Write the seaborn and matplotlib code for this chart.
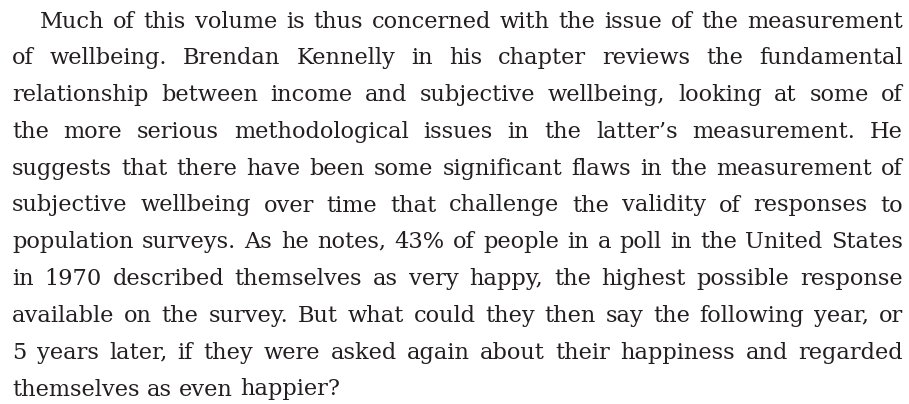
import matplotlib
matplotlib.use('Agg')
import matplotlib.pyplot as plt
import seaborn as sns

# theme first, font list after (set_theme resets font.family)
sns.set_theme(style='white')
plt.rcParams['font.family'] = ['DejaVu Serif', 'Liberation Serif']

# paragraph lines as they break in the reference
lines = [
    "Much of this volume is thus concerned with the issue of the measurement",
    "of wellbeing. Brendan Kennelly in his chapter reviews the fundamental",
    "relationship between income and subjective wellbeing, looking at some of",
    "the more serious methodological issues in the latter\u2019s measurement. He",
    "suggests that there have been some significant flaws in the measurement of",
    "subjective wellbeing over time that challenge the validity of responses to",
    "population surveys. As he notes, 43% of people in a poll in the United States",
    "in 1970 described themselves as very happy, the highest possible response",
    "available on the survey. But what could they then say the following year, or",
    "5 years later, if they were asked again about their happiness and regarded",
    "themselves as even happier?",
]
indent = [True] + [False] * (len(lines) - 1)

W, H = 909, 404
left, right = 12, 903
first_base, pitch = 27.5, 36.8
fsize = 16.2
color = '#231f20'

fig = plt.figure(figsize=(W / 100, H / 100), dpi=100)
ax = fig.add_axes([0, 0, 1, 1])
ax.set_xlim(0, W)
ax.set_ylim(H, 0)
ax.axis('off')
r = fig.canvas.get_renderer()

def width(s):
    t = ax.text(0, 0, s, fontsize=fsize)
    w = t.get_window_extent(r).width
    t.remove()
    return w

space = width('a a') - width('aa')

# justified lines: spread leftover room evenly over the word gaps
for i, line in enumerate(lines):
    y = first_base + i * pitch
    x0 = left + (28 if indent[i] else 0)
    words = line.split(' ')
    ws = [width(w) for w in words]
    if i < len(lines) - 1:
        gap = (right - x0 - sum(ws)) / (len(words) - 1)
    else:
        gap = space
    x = x0
    for w, wd in zip(words, ws):
        ax.text(x, y, w, fontsize=fsize, color=color, va='baseline', ha='left')
        x += wd + gap

fig.savefig('out.png', dpi=100, facecolor='white')
